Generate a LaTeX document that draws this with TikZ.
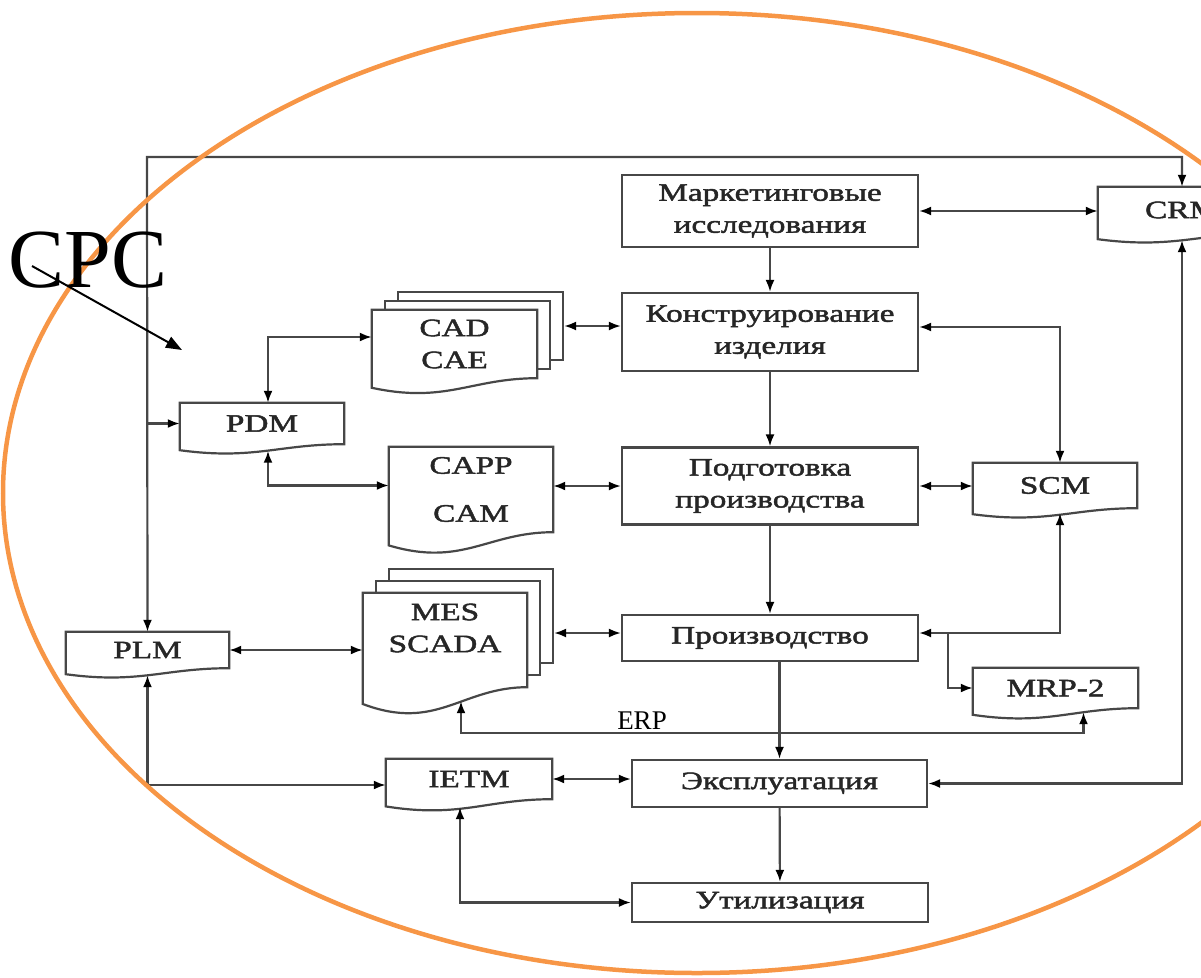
\documentclass[tikz,border=0pt]{standalone}
\usepackage{fontspec}
\newfontfamily\boxfont[FakeStretch=1.33,FakeBold=1.8]{Liberation Serif}
\newfontfamily\notefont{Liberation Serif}
\usetikzlibrary{arrows.meta,calc,backgrounds}

\definecolor{wiregray}{HTML}{474747}
\definecolor{rimorange}{HTML}{F79646}

\tikzset{
  wire/.style={draw=wiregray, line width=2.2pt},
  arr/.style={wire, -{Latex[length=12pt,width=9pt,color=black]}},
  biarr/.style={wire, {Latex[length=12pt,width=9pt,color=black]}-{Latex[length=12pt,width=9pt,color=black]}},
  stage/.style={wire, fill=white, minimum width=296pt, inner sep=0pt, align=center,
    font=\boxfont\fontsize{25}{32}\selectfont, text=black!85},
  doc/.style={inner sep=0pt, align=center, font=\boxfont\fontsize{25}{32}\selectfont, text=black!85},
  sheet/.style={wire, fill=white, inner sep=0pt},
  rim/.style={draw=rimorange, line width=4.5pt},
}

% document outline with a wavy lower edge: #1 node, #2 wave depth
\newcommand{\docline}[2]{%
  \draw[wire, fill=white] let \p1=($(#1.south east)-(#1.south west)$) in
    (#1.south west) -- (#1.north west) -- (#1.north east) -- (#1.south east)
    .. controls +(-0.4*\x1,0pt) and +(0.45*\x1,-#2*1pt) .. ($(#1.south west)+(0,0.6*#2)$) -- cycle;}

\begin{document}
\begin{tikzpicture}[x=1pt,y=-1pt]
\useasboundingbox (0,0) rectangle (1201,977);

% life-cycle stages
\node[stage, minimum height=72pt] (mark) at (770,211) {Маркетинговые\\исследования};
\node[stage, minimum height=78pt] (design) at (770,332) {Конструирование\\изделия};
\node[stage, minimum height=77pt] (prep) at (770,486) {Подготовка\\производства};
\node[stage, minimum height=46pt] (prod) at (770,638) {Производство};
\node[stage, minimum width=295pt, minimum height=47pt] (eksp) at (779.5,783.5) {Эксплуатация};
\node[stage, minimum height=39pt] (util) at (780,902.5) {Утилизация};

% information systems
\node[doc, minimum width=164pt, minimum height=41pt] (pdm) at (262,423.5) {PDM};
\node[doc, minimum width=165pt, minimum height=68pt] (cad) at (454.5,344) {CAD\\CAE};
\node[doc, minimum width=164pt, minimum height=85pt] (capp) at (471,489.5) {CAPP\\[16pt]CAM};
\node[doc, minimum width=164pt, minimum height=94pt] (mes) at (445,640) {};
\node[doc] (mestext) at ($(mes)+(0,-12)$) {MES\\SCADA};
\node[doc, minimum width=164pt, minimum height=45pt] (scm) at (1055,485.5) {SCM};
\node[doc, minimum width=165pt, minimum height=40pt] (mrp) at (1055.5,688) {MRP-2};
\node[doc, minimum width=168pt, minimum height=46pt] (crm) at (1182,210) {CRM};
\node[doc, minimum width=163pt, minimum height=36pt] (plm) at (147.5,650) {PLM};
\node[doc, minimum width=166pt, minimum height=40pt] (ietm) at (469,779) {IETM};

\begin{scope}[on background layer]
  \node[sheet, minimum width=165pt, minimum height=68pt] (cad3) at (480.5,326) {};
  \node[sheet, minimum width=165pt, minimum height=68pt] (cad2) at (467.5,335) {};
  \node[sheet, minimum width=164pt, minimum height=94pt] (mes3) at (471,616) {};
  \node[sheet, minimum width=164pt, minimum height=94pt] (mes2) at (458,628) {};
  \docline{pdm}{10}
  \docline{cad}{16}
  \docline{capp}{22}
  \docline{mes}{28}
  \docline{scm}{10}
  \docline{mrp}{11}
  \docline{crm}{10}
  \docline{plm}{10}
  \docline{ietm}{12}
\end{scope}

% main flow
\draw[arr] (mark) -- (design);
\draw[arr] (design) -- (prep);
\draw[arr] (prep) -- (prod);
\draw[arr] (prod.south -| eksp.north) -- (eksp.north);
\draw[arr] (eksp) -- (util);

% links
\draw[biarr] (mark.east) -- (mark.east -| crm.west);
\draw[biarr] ($(design.east)+(0,-5)$) -| ($(scm.north)+(5,0)$);
\draw[biarr] (cad3.east) -- (cad3.east -| design.west);
\draw[biarr] (prep.west -| capp.east) -- (prep.west);
\draw[biarr] (prep.east) -- (prep.east -| scm.west);
\draw[biarr] ($(scm.south)+(5,5)$) |- ($(prod.east)+(0,-5)$);
\coordinate (mrptap) at ($(prod.east)+(29,-5)$);
\draw[arr] (mrptap) |- (mrp.west);
\coordinate (erp) at (770,733);
\draw[biarr] ($(mes.south)+(16,14)$) |- (erp) -| ($(mrp.south)+(28,4)$);
\draw[biarr] ($(prod.west -| mes3.east)+(0,-5)$) -- ($(prod.west)+(0,-5)$);
\draw[biarr] (plm.east) -- (plm.east -| mes.west);
\coordinate (busnw) at (147,157);
\draw[biarr] (plm.north) -- (busnw) -| (crm.north);
\draw[arr] (busnw |- pdm.west) -- (pdm.west);
\draw[biarr] ($(crm.south)+(0,7)$) |- (eksp.east);
\draw[biarr] ($(plm.south)+(0,7)$) |- ($(ietm.west)+(0,6)$);
\draw[biarr] (ietm.east) -- (ietm.east -| eksp.west);
\draw[biarr] ($(ietm.south)+(-9,8)$) |- (util.west);
\draw[biarr] ($(pdm.north)+(6,0)$) |- ($(cad.west)+(0,-7)$);
\draw[biarr] ($(pdm.south)+(6,6.5)$) |- ($(capp.west)+(0,-4)$);

\node[anchor=base, font=\notefont\fontsize{27}{27}\selectfont] (erplabel) at (642,729) {ERP};

% overlay
\draw[rim] (697,493) ellipse [x radius=694pt, y radius=480pt];
\node[anchor=base, font=\notefont\fontsize{84}{84}\selectfont, inner sep=0pt] (cpc) at (88,287) {CPC};
\coordinate (cpcfrom) at (32,266);
\coordinate (cpcto) at (182,350);
\draw[line width=2pt, -{Triangle[length=16pt,width=12pt]}] (cpcfrom) -- (cpcto);
\end{tikzpicture}
\end{document}
